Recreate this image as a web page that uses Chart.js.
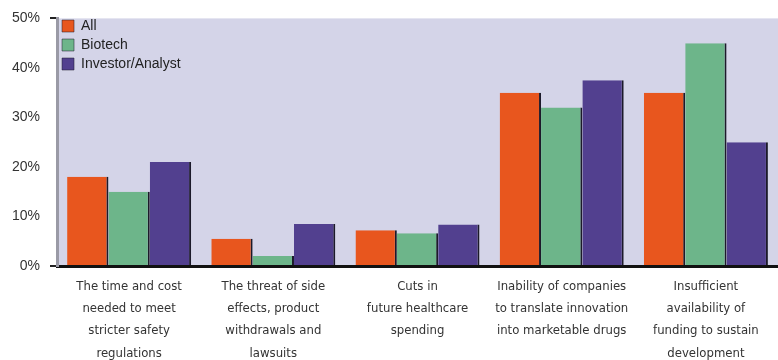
<!DOCTYPE html>
<html>
<head>
<meta charset="utf-8">
<script src="https://cdn.jsdelivr.net/npm/chart.js@4"></script>
<style>
  html, body { margin: 0; padding: 0; background: #ffffff; }
  #wrap { width: 778px; height: 360px; }
</style>
</head>
<body>
<div id="wrap"><canvas id="chart" width="778" height="360"></canvas></div>
<script>
// categories (multi-line labels)
const categories = [
  ["The time and cost", "needed to meet", "stricter safety", "regulations"],
  ["The threat of side", "effects, product", "withdrawals and", "lawsuits"],
  ["Cuts in", "future healthcare", "spending"],
  ["Inability of companies", "to translate innovation", "into marketable drugs"],
  ["Insufficient", "availability of", "funding to sustain", "development"]
];

// series values (%)
const allValues      = [18, 5.5, 7.2, 35, 35];
const biotechValues  = [15, 2,   6.6, 32, 45];
const investorValues = [21, 8.5, 8.4, 37.5, 25];

const yTicks = [0, 10, 20, 30, 40, 50];

// plot background
const plotBg = {
  id: "plotBg",
  beforeDraw(chart) {
    const { ctx, chartArea: a } = chart;
    ctx.save();
    ctx.fillStyle = "#d4d4e8";
    ctx.fillRect(a.left, a.top, a.right - a.left, a.bottom - a.top);
    ctx.restore();
  }
};

// nudge the legend a bit inside the plot
const legendNudge = {
  id: "legendNudge",
  afterLayout(chart) {
    const lg = chart.legend;
    if (!lg) return;
    lg.top += 14;
    lg.bottom += 14;
  }
};

const barStyle = {
  borderColor: "#1c1a2a",
  borderWidth: { right: 2, top: 0, left: 0, bottom: 0 },
  borderSkipped: false
};

new Chart(document.getElementById("chart").getContext("2d"), {
  type: "bar",
  data: {
    labels: categories,
    datasets: [
      { label: "All", data: allValues, backgroundColor: "#e8561e", ...barStyle },
      { label: "Biotech", data: biotechValues, backgroundColor: "#6db58a", ...barStyle },
      { label: "Investor/Analyst", data: investorValues, backgroundColor: "#52408f", ...barStyle }
    ]
  },
  options: {
    responsive: false,
    animation: false,
    layout: { padding: { top: 12, right: 0, left: 2, bottom: 0 } },
    datasets: { bar: { barPercentage: 1, categoryPercentage: 0.86 } },
    plugins: {
      legend: {
        position: "chartArea",
        align: "start",
        labels: {
          boxWidth: 12,
          boxHeight: 12,
          padding: 5,
          color: "#222",
          font: { family: "'Liberation Sans', Arial, sans-serif", size: 14 }
        }
      },
      tooltip: { enabled: false }
    },
    scales: {
      x: {
        grid: { display: false },
        border: { color: "#111", width: 3 },
        afterFit: axis => { axis.height = 94; },
        ticks: {
          color: "#333",
          padding: 1,
          maxRotation: 0,
          autoSkip: false,
          font: { family: "'Liberation Sans Narrow', 'DejaVu Sans Condensed', sans-serif", size: 13, lineHeight: 1.72 }
        }
      },
      y: {
        min: 0,
        max: 50,
        afterBuildTicks: axis => { axis.ticks = yTicks.map(v => ({ value: v })); },
        border: { color: "#9a9aa6", width: 3 },
        grid: {
          drawOnChartArea: false,
          tickLength: 7,
          lineWidth: 2,
          color: c => (c.tick && (c.tick.value === 50 || c.tick.value === 0)) ? "#222" : "rgba(0,0,0,0)"
        },
        ticks: {
          color: "#333",
          padding: 10,
          font: { family: "'Liberation Sans', Arial, sans-serif", size: 14 },
          callback: v => v + "%"
        }
      }
    }
  },
  plugins: [plotBg, legendNudge]
});
</script>
</body>
</html>
